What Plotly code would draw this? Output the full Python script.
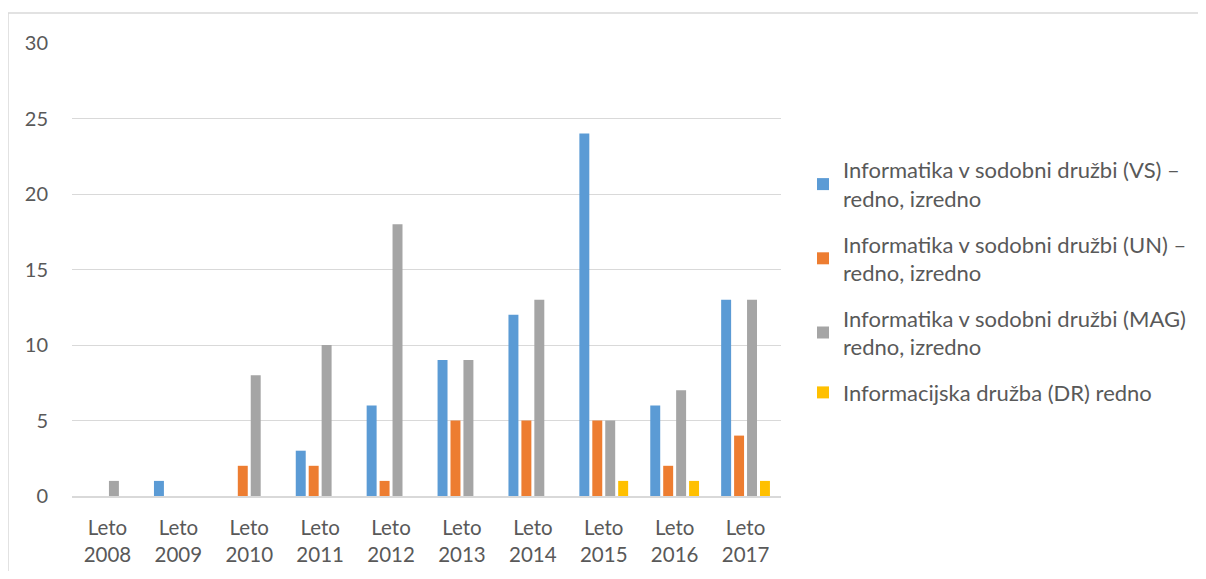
import plotly.graph_objects as go

categories = ["Leto<br>2008", "Leto<br>2009", "Leto<br>2010", "Leto<br>2011", "Leto<br>2012",
              "Leto<br>2013", "Leto<br>2014", "Leto<br>2015", "Leto<br>2016", "Leto<br>2017"]
series_names = [
    "Informatika v sodobni družbi (VS) –<br>redno, izredno",
    "Informatika v sodobni družbi (UN) –<br>redno, izredno",
    "Informatika v sodobni družbi (MAG)<br>redno, izredno",
    "Informacijska družba (DR) redno",
]
vs_values = [0, 1, 0, 3, 6, 9, 12, 24, 6, 13]
un_values = [0, 0, 2, 2, 1, 5, 5, 5, 2, 4]
mag_values = [1, 0, 8, 10, 18, 9, 13, 5, 7, 13]
dr_values = [0, 0, 0, 0, 0, 0, 0, 1, 1, 1]
colors = ["#5B9BD5", "#ED7D31", "#A5A5A5", "#FFC000"]

fig = go.Figure()
for i, (name, vals) in enumerate(zip(series_names, [vs_values, un_values, mag_values, dr_values])):
    fig.add_trace(go.Bar(x=categories, y=vals, name=name, marker_color=colors[i],
                         marker_line_width=0, legendgroup=str(i)))

# page offset of 8px (body margin) is compensated in the margins
W, H = 1190, 563
plot_w = 709
plot_h = 452.7
font_family = "Lato, 'Open Sans', sans-serif"
fig.update_layout(
    width=W, height=H,
    margin=dict(l=64, r=W - 64 - plot_w, t=35, b=H - 35 - plot_h, autoexpand=False),
    paper_bgcolor="white", plot_bgcolor="white",
    barmode="group", bargap=0.27, bargroupgap=0.23,
    font=dict(family=font_family, size=20, color="#595959"),
    showlegend=True,
    legend=dict(x=(795 - 64) / plot_w, xanchor="left", y=0.766, yanchor="top",
                font=dict(size=22, color="#595959"), tracegroupgap=14,
                bgcolor="rgba(0,0,0,0)"),
    xaxis=dict(showgrid=False, showline=True, linecolor="#D9D9D9", linewidth=1.5,
               tickfont=dict(size=20.5, color="#595959"), ticks="", ticklabelstandoff=13),
    yaxis=dict(range=[0, 30], dtick=5, showgrid=True, gridcolor="#D9D9D9", gridwidth=1.2,
               zeroline=False, showline=False, ticks="",
               tickfont=dict(size=20, color="#595959"), ticklabelstandoff=23),
)
# outer chart border (top and left edges visible)
x_left = (0 - 64) / plot_w
x_right = (W - 64) / plot_w
y_top = (35 + plot_h - 5) / plot_h
y_bottom = -(H - 35 - plot_h) / plot_h
fig.add_shape(type="line", xref="paper", yref="paper", x0=x_left, x1=x_right, y0=y_top, y1=y_top,
              line=dict(color="#D9D9D9", width=1.5), layer="below")
fig.add_shape(type="line", xref="paper", yref="paper", x0=x_left, x1=x_left, y0=y_bottom, y1=y_top,
              line=dict(color="#D9D9D9", width=1.5), layer="below")
fig.write_html("out.html")
